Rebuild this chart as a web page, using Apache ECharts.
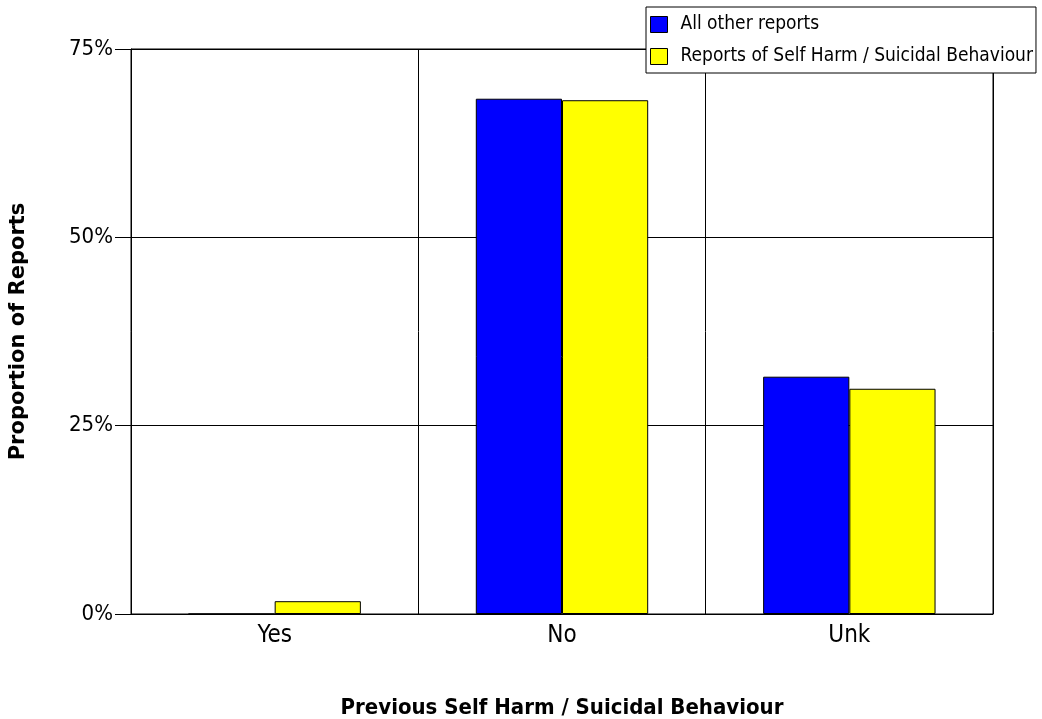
<!DOCTYPE html>
<html><head><meta charset="utf-8">
<script src="https://cdn.jsdelivr.net/npm/echarts@6/dist/echarts.min.js"></script>
<style>html,body{margin:0;padding:0;background:#fff;overflow:hidden}#c{width:1042px;height:719px}</style>
</head><body><div id="c"></div>
<script>
const categories = ['Yes', 'No', 'Unk'];
const allOther = [0, 68.4, 31.5];
const selfHarm = [1.7, 68.2, 29.9];
const yTicks = [0, 25, 50, 75];
const seriesNames = ['All other reports', 'Reports of Self Harm / Suicidal Behaviour'];
const narrow = '"Liberation Sans Narrow", "Arial Narrow", "DejaVu Sans Condensed", sans-serif';

const chart = echarts.init(document.getElementById('c'), null, { width: 1042, height: 719 });
chart.setOption({
  animation: false,
  backgroundColor: '#fff',
  grid: { left: 131, width: 862, top: 49, height: 565, show: true, borderColor: '#000', borderWidth: 1,
          containLabel: false, outerBoundsMode: 'none' },
  legend: {
    orient: 'vertical', left: 646, top: 7,
    backgroundColor: '#fff', borderColor: '#000', borderWidth: 1,
    padding: [8, 3, 7, 4], itemGap: 13, itemWidth: 17, itemHeight: 16,
    icon: 'rect',
    textStyle: { fontFamily: narrow, fontSize: 19, lineHeight: 16, color: '#000', padding: [0, 0, 0, 8] },
    itemStyle: { borderColor: '#000', borderWidth: 1 },
    data: seriesNames
  },
  xAxis: {
    type: 'category', data: categories,
    name: 'Previous Self Harm / Suicidal Behaviour', nameLocation: 'middle', nameGap: 83,
    nameTextStyle: { fontFamily: narrow, fontWeight: 'bold', fontSize: 22, color: '#000' },
    axisLine: { lineStyle: { color: '#000', width: 1 } },
    axisTick: { show: false },
    axisLabel: { fontFamily: narrow, fontSize: 24, color: '#000', margin: 10 },
    splitLine: { show: true, lineStyle: { color: '#000', width: 1 } }
  },
  yAxis: {
    type: 'value', min: 0, max: 75, interval: 25,
    name: 'Proportion of Reports', nameLocation: 'middle', nameGap: 102,
    nameTextStyle: { fontFamily: '"DejaVu Sans", sans-serif', fontWeight: 'bold', fontSize: 21, color: '#000' },
    axisLine: { show: true, lineStyle: { color: '#000', width: 1 } },
    axisTick: { show: true, length: 16, lineStyle: { color: '#000' } },
    axisLabel: { fontFamily: narrow, fontSize: 22, color: '#000', margin: 18, formatter: v => yTicks.includes(v) ? v + '%' : '' },
    splitLine: { show: true, lineStyle: { color: '#000', width: 1 } }
  },
  series: [
    { name: seriesNames[0], type: 'bar', data: allOther, barGap: '0%', barCategoryGap: '40%',
      itemStyle: { color: '#0000ff', borderColor: '#000', borderWidth: 1 } },
    { name: seriesNames[1], type: 'bar', data: selfHarm, barGap: '0%', barCategoryGap: '40%',
      itemStyle: { color: '#ffff00', borderColor: '#000', borderWidth: 1 } }
  ]
});
</script></body></html>
